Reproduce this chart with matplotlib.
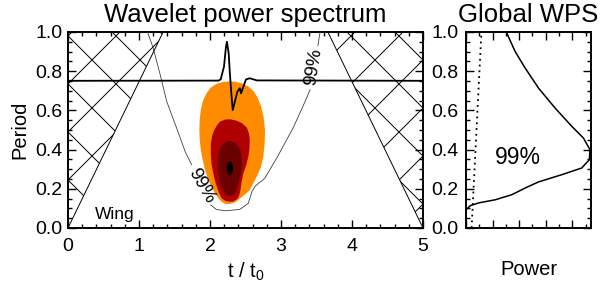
import matplotlib
matplotlib.use('Agg')
import matplotlib.pyplot as plt
import numpy as np
from matplotlib import rcParams
from matplotlib.patches import Polygon
from matplotlib.ticker import MultipleLocator

fontsize = 14
linewidth = 1.4

rcParams['font.family'] = ['Liberation Sans', 'DejaVu Sans']
rcParams['mathtext.default'] = 'regular'
rcParams['font.size'] = fontsize
rcParams['axes.linewidth'] = linewidth

# light curve drawn over the spectrum (period axis units)
sig_t = [0.0, 2.12, 2.15, 2.197, 2.225, 2.239, 2.263, 2.28, 2.30, 2.32, 2.35,
         2.385, 2.42, 2.437, 2.47, 2.507, 2.56, 2.66, 5.0]
sig_y = [0.751, 0.752, 0.758, 0.823, 0.925, 0.950, 0.891, 0.789, 0.687, 0.602,
         0.644, 0.695, 0.713, 0.687, 0.721, 0.758, 0.764, 0.753, 0.751]

# filled power contours (outlines)
lev1_t = [2.28, 2.36, 2.45, 2.54, 2.61, 2.67, 2.72, 2.755, 2.775, 2.77, 2.75,
          2.72, 2.68, 2.62, 2.56, 2.49, 2.42, 2.36, 2.305, 2.25, 2.21, 2.16,
          2.12, 2.07, 2.02, 1.97, 1.93, 1.895, 1.87, 1.855, 1.85, 1.855, 1.87,
          1.90, 1.95, 2.01, 2.09, 2.18]
lev1_y = [0.748, 0.746, 0.738, 0.722, 0.700, 0.666, 0.620, 0.565, 0.500,
          0.430, 0.364, 0.315, 0.279, 0.235, 0.194, 0.170, 0.150, 0.132,
          0.125, 0.122, 0.124, 0.135, 0.151, 0.178, 0.211, 0.255, 0.296,
          0.350, 0.398, 0.450, 0.500, 0.550, 0.602, 0.648, 0.687, 0.716,
          0.735, 0.745]
lev2_t = [2.28, 2.37, 2.45, 2.52, 2.55, 2.56, 2.555, 2.54, 2.51, 2.47, 2.445,
          2.43, 2.41, 2.385, 2.33, 2.28, 2.22, 2.165, 2.12, 2.08, 2.045, 2.02,
          2.01, 2.012, 2.03, 2.06, 2.10, 2.14, 2.21]
lev2_y = [0.555, 0.548, 0.535, 0.512, 0.480, 0.449, 0.400, 0.364, 0.320,
          0.279, 0.235, 0.194, 0.165, 0.148, 0.136, 0.134, 0.138, 0.151,
          0.185, 0.228, 0.280, 0.330, 0.385, 0.432, 0.470, 0.500, 0.525,
          0.542, 0.553]
lev3_t = [2.28, 2.34, 2.385, 2.425, 2.445, 2.45, 2.445, 2.425, 2.40, 2.375,
          2.35, 2.315, 2.28, 2.24, 2.20, 2.16, 2.13, 2.115, 2.11, 2.115, 2.13,
          2.16, 2.22]
lev3_y = [0.444, 0.438, 0.423, 0.400, 0.370, 0.335, 0.296, 0.260, 0.228,
          0.195, 0.177, 0.166, 0.163, 0.168, 0.180, 0.210, 0.250, 0.290,
          0.330, 0.365, 0.395, 0.420, 0.438]
lev4_t = [2.28, 2.30, 2.317, 2.325, 2.317, 2.30, 2.28, 2.26, 2.243, 2.235,
          2.243, 2.26]
lev4_y = [0.340, 0.336, 0.324, 0.305, 0.286, 0.274, 0.270, 0.274, 0.286,
          0.305, 0.324, 0.336]

# 99% significance contour (gaps where the labels sit)
sig99_t = [1.12, 1.20, 1.30, 1.39, 1.53, 1.65, 1.74, np.nan,
           2.01, 2.09, 2.235, 2.42, 2.54, 2.59, 2.64, 2.77, 2.94, 3.17, 3.34,
           3.41, np.nan, 3.52, 3.55]
sig99_y = [1.00, 0.918, 0.78, 0.646, 0.51, 0.39, 0.323, np.nan,
           0.118, 0.094, 0.088, 0.095, 0.126, 0.185, 0.215, 0.253, 0.357,
           0.51, 0.646, 0.706, np.nan, 0.93, 1.00]

# cone of influence
coi_left_t = [0.0, 1.34, 0.0]
coi_left_y = [0.0, 1.0, 1.0]
coi_right_t = [5.0, 3.66, 5.0]
coi_right_y = [0.0, 1.0, 1.0]

# global wavelet power spectrum
gws_period = [0.093, 0.114, 0.128, 0.144, 0.17, 0.204, 0.235, 0.272,
              0.306, 0.349, 0.40, 0.459, 0.519, 0.612, 0.714, 0.816, 0.901,
              1.0]
gws_power = [0.0, 0.32, 0.95, 2.20, 3.45, 4.45, 5.45, 7.20, 8.70, 9.28,
             9.32, 8.83, 7.95, 6.70, 5.45, 4.45, 3.69, 3.03]
sig_period = [0.0, 1.0]
sig_power = [0.42, 1.16]

fig = plt.figure(figsize=(6.0, 2.83), dpi=100)
ax = fig.add_axes([68/600, 1-228/283, 355/600, 196/283])
ax2 = fig.add_axes([466/600, 1-228/283, 125/600, 196/283])

colors = ['#FF8C00', '#B00000', '#6A0000', '#000000']
for (tt, yy), c in zip([(lev1_t, lev1_y), (lev2_t, lev2_y),
                        (lev3_t, lev3_y), (lev4_t, lev4_y)], colors):
    ax.fill(tt, yy, color=c, lw=0, zorder=2)

ax.plot(sig99_t, sig99_y, color='0.25', lw=0.6, zorder=3)
ax.text(1.875, 0.215, '99%', rotation=-60, ha='center', va='center',
        fontsize=13.5, zorder=5)
ax.text(3.465, 0.82, '99%', rotation=81, ha='center', va='center',
        fontsize=13.5, zorder=5)

# cone of influence with cross hatching
slope = 71 / 196
for ct, cy, x0, offs in [(coi_left_t, coi_left_y, 0.0, 0.0),
                         (coi_right_t, coi_right_y, 5.0, 0.857)]:
    poly = Polygon(np.column_stack([ct, cy]), closed=True, fill=False,
                   lw=0, transform=ax.transData)
    ax.add_patch(poly)
    tt = np.array([-1.0, 6.0])
    for k in range(-12, 13):
        c = offs + 0.245 * k
        for s in (slope, -slope):
            ln, = ax.plot(tt, c + s * (tt - x0), color='k', lw=0.7, zorder=4)
            ln.set_clip_path(poly)
    ax.plot(ct[:2], cy[:2], color='k', lw=0.7, zorder=4)

ax.plot(sig_t, sig_y, color='k', lw=1.3, zorder=6)
ax.text(0.38, 0.045, 'Wing', fontsize=12.5, zorder=6)

ax.set_xlim(0, 5)
ax.set_ylim(0, 1)
ax.xaxis.set_major_locator(MultipleLocator(1))
ax.xaxis.set_minor_locator(MultipleLocator(0.2))
ax.yaxis.set_major_locator(MultipleLocator(0.2))
ax.yaxis.set_minor_locator(MultipleLocator(0.05))
ax.set_xlabel('t / t$_0$', fontsize=14.5, labelpad=4)
ax.set_ylabel('Period', fontsize=14.5, labelpad=4)
ax.set_title('Wavelet power spectrum', fontsize=18.5, pad=7)

ax2.plot(gws_power, gws_period, color='k', lw=1.1)
ax2.plot(sig_power, sig_period, color='k', lw=1.3, ls=(0, (1, 2.2)))
ax2.text(2.15, 0.36, '99%', fontsize=16.5, va='center')
ax2.set_xlim(0, 9.4)
ax2.set_ylim(0, 1)
ax2.xaxis.set_major_locator(MultipleLocator(2))
ax2.xaxis.set_minor_locator(MultipleLocator(1))
ax2.yaxis.set_major_locator(MultipleLocator(0.2))
ax2.yaxis.set_minor_locator(MultipleLocator(0.05))
ax2.set_xticklabels([])
ax2.set_xlabel('Power', fontsize=14.5, labelpad=16)
ax2.set_title('Global WPS', fontsize=18.5, pad=7)

for a in (ax, ax2):
    a.tick_params(which='both', direction='in', top=True, right=True,
                  width=1.0)
    a.tick_params(which='major', length=5.5)
    a.tick_params(which='minor', length=3)
    a.tick_params(axis='x', which='major', pad=7, labelsize=14)
    a.tick_params(axis='y', which='major', pad=4, labelsize=14)
ax2.tick_params(axis='y', which='major', pad=5.5)

fig.savefig('out.png', dpi=100)
